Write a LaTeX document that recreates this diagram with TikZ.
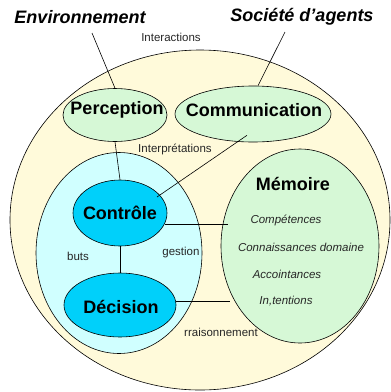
\documentclass[tikz,border=0pt]{standalone}
\usepackage{fontspec}
\setmainfont{Liberation Sans}
\usepackage{xcolor}
\usetikzlibrary{shapes,positioning,calc}
\definecolor{agentbg}{RGB}{255,250,218}
\definecolor{modgreen}{RGB}{214,248,214}
\definecolor{ctrlbg}{RGB}{208,255,255}
\definecolor{ctrlcyan}{RGB}{0,208,250}

\begin{document}
\begin{tikzpicture}[x=1pt,y=-1pt,
  blob/.style={ellipse,draw,semithick,inner sep=0pt},
  big/.style={font=\fontsize{18}{20}\selectfont\bfseries},
  title/.style={font=\fontsize{18}{20}\selectfont\bfseries\itshape},
  small/.style={font=\fontsize{11.5}{13}\selectfont,text=black!85},
  memo/.style={font=\fontsize{11.5}{13}\selectfont\itshape,text=black!85}]
\useasboundingbox (0,0) rectangle (391,392);
% Agent
\node[blob,fill=agentbg,minimum width=380,minimum height=340] (agent) at (200,220) {};
% Titles
\node[title] (env) at (80,17) {Environnement};
\node[title] (soc) at (302,17) {Société d’agents};
\coordinate (envEnd) at (92,33);
\coordinate (socEnd) at (285,32);
% Modules
\node[blob,fill=modgreen,minimum width=104,minimum height=53] (perc) at (115,115) {};
\node[blob,fill=modgreen,minimum width=156,minimum height=56] (comm) at (253,114) {};
\node[blob,fill=ctrlbg,minimum width=166,minimum height=201] (core) at (119,253) {};
\node[blob,fill=modgreen,minimum width=158,minimum height=194] (mem) at (300,246) {};
\node[blob,fill=ctrlcyan,minimum width=94,minimum height=66] (ctrl) at (120,213) {};
\node[blob,fill=ctrlcyan,minimum width=112,minimum height=64] (dec) at (120,305) {};
\node[big] (percT) at (117,110) {Perception};
\node[big] (commT) at (254,110) {Communication};
\node[big] (ctrlT) at (120,213) {Contrôle};
\node[big] (decT) at (121,307) {Décision};
% Links
\draw[semithick] (envEnd) -- (perc.north);
\draw[semithick] (socEnd) -- ($(comm.north)+(5,0)$);
\draw[semithick] (perc.south) -- (ctrl.north);
\draw[semithick] ($(comm.south)+(-6,-7)$) -- ($(ctrl.center)+(37,-16)$);
\draw[semithick] (ctrl.south) -- (dec.north);
\draw[semithick] (ctrl.east |- 0,224) ++(-2,0) -- (228,224);
\draw[semithick] (dec.east |- 0,301) -- (230,301);
% Labels
\node[small] (inter) at (171,37) {Interactions};
\node[small] (interp) at (175,149) {Interprétations};
\node[small] (buts) at (78,256) {buts};
\node[small] (gest) at (181,253) {gestion};
\node[small] (rais) at (221,332) {rraisonnement};
% Memory contents
\node[big] (memT) at (293,184) {Mémoire};
\node[memo] (comp) at (286,220) {Compétences};
\node[memo] (conn) at (301,247) {Connaissances domaine};
\node[memo] (acc) at (287,274) {Accointances};
\node[memo] (intent) at (286,301) {In,tentions};
\end{tikzpicture}
\end{document}
